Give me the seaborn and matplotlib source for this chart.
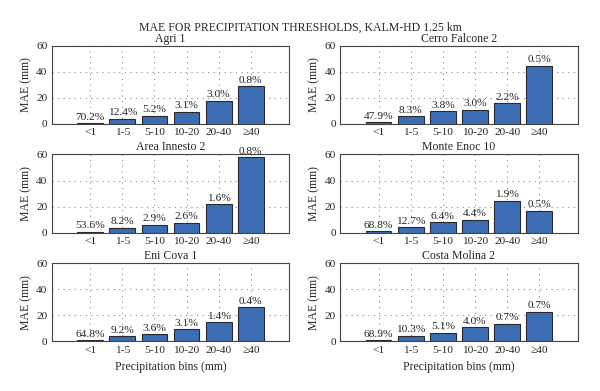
import numpy as np
import pandas as pd
import matplotlib
matplotlib.use("Agg")
import matplotlib.pyplot as plt
import seaborn as sns

# precipitation bins and stations
bins = ["<1", "1-5", "5-10", "10-20", "20-40", "≥40"]
stations = ["Agri 1", "Cerro Falcone 2", "Area Innesto 2",
            "Monte Enoc 10", "Eni Cova 1", "Costa Molina 2"]

# MAE values (mm)
mae_agri = [0.8, 4.0, 6.3, 9.4, 17.8, 29.0]
mae_cerro = [1.3, 5.8, 10.0, 11.0, 16.0, 44.7]
mae_area = [0.8, 3.9, 6.2, 7.5, 21.6, 57.7]
mae_monte = [1.0, 4.4, 8.0, 9.8, 24.5, 16.7]
mae_eni = [1.0, 3.8, 5.6, 9.5, 14.9, 26.4]
mae_costa = [1.0, 4.4, 6.7, 11.0, 13.6, 22.8]

# share of events in each bin
pct_agri = ["70.2%", "12.4%", "5.2%", "3.1%", "3.0%", "0.8%"]
pct_cerro = ["47.9%", "8.3%", "3.8%", "3.0%", "2.2%", "0.5%"]
pct_area = ["53.6%", "8.2%", "2.9%", "2.6%", "1.6%", "0.8%"]
pct_monte = ["68.8%", "12.7%", "6.4%", "4.4%", "1.9%", "0.5%"]
pct_eni = ["64.8%", "9.2%", "3.6%", "3.1%", "1.4%", "0.4%"]
pct_costa = ["68.9%", "10.3%", "5.1%", "4.0%", "0.7%", "0.7%"]

mae_all = [mae_agri, mae_cerro, mae_area, mae_monte, mae_eni, mae_costa]
pct_all = [pct_agri, pct_cerro, pct_area, pct_monte, pct_eni, pct_costa]

sns.set_style("white")
plt.rcParams['font.family'] = ['Liberation Serif', 'DejaVu Serif']
plt.rcParams['font.size'] = 8

fig, axes = plt.subplots(3, 2, figsize=(6, 3.91), dpi=100)
fig.subplots_adjust(left=0.086, right=0.963, top=0.883, bottom=0.127,
                    wspace=0.213, hspace=0.39)

for ax, name, mae, pct in zip(axes.flat, stations, mae_all, pct_all):
    df = pd.DataFrame({"bin": bins, "mae": mae})
    sns.barplot(data=df, x="bin", y="mae", color="#3d6db5", saturation=1,
                width=0.8, edgecolor="#2a2a2a", linewidth=0.8, ax=ax, zorder=3)
    ax.bar_label(ax.containers[0], labels=pct, padding=1, fontsize=8.2)
    ax.set_xlim(-1.2, 6.2)
    ax.set_ylim(0, 60)
    ax.set_yticks([0, 20, 40, 60])
    ax.grid(True, color="#8a8a8a", linestyle=(0, (1, 4)), linewidth=0.8, zorder=0)
    ax.set_title(name, fontsize=8.5, pad=3)
    ax.set_ylabel("MAE (mm)", fontsize=8.5, labelpad=3)
    ax.set_xlabel("")
    ax.tick_params(length=0, pad=3, labelsize=8.2)
    for s in ax.spines.values():
        s.set_color("#444444")
        s.set_linewidth(0.8)

for ax in axes[2]:
    ax.set_xlabel("Precipitation bins (mm)", fontsize=8.5, labelpad=5)

fig.suptitle("MAE FOR PRECIPITATION THRESHOLDS, KALM-HD 1.25 km",
             fontsize=8.5, y=0.945)

fig.savefig("out.png", dpi=100)
